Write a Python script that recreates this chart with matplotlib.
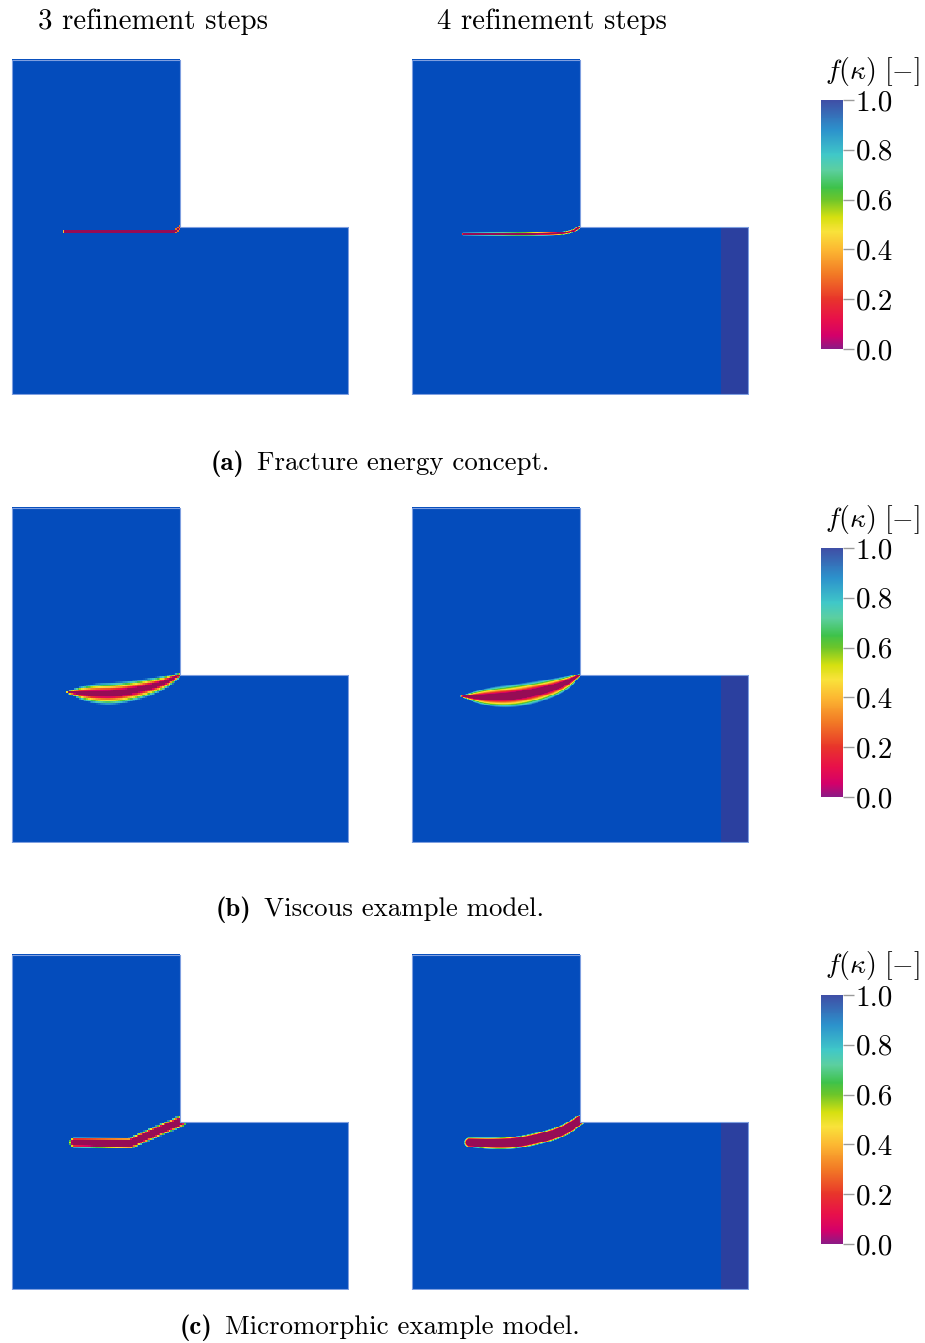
import numpy as np
import matplotlib
matplotlib.use("Agg")
import matplotlib.pyplot as plt
from matplotlib.colors import LinearSegmentedColormap, Normalize
from matplotlib.cm import ScalarMappable
from matplotlib.patches import Rectangle
from matplotlib.offsetbox import TextArea, HPacker, AnnotationBbox

plt.rcParams["font.family"] = "serif"
plt.rcParams["font.serif"] = ["cmr10"]
plt.rcParams["mathtext.fontset"] = "cm"
plt.rcParams["axes.unicode_minus"] = False
plt.rcParams["axes.formatter.use_mathtext"] = True

col_titles = ["3 refinement steps", "4 refinement steps"]
row_tags = ["(a)", "(b)", "(c)"]
row_captions = ["Fracture energy concept.", "Viscous example model.",
                "Micromorphic example model."]
cbar_ticks = [0.0, 0.2, 0.4, 0.6, 0.8, 1.0]

# L-shaped domain outline (domain units)
outline_x = [0, 2, 2, 1, 1, 0, 0]
outline_y = [0, 0, 1, 1, 2, 2, 0]
strip_x = [1.84, 2.0]   # stiffer support strip, finer meshes only
grid_n = [200, 400]     # cells across the domain for 3 / 4 refinements

# crack centerlines, half widths, fully-damaged core fraction, smooth?
# row a: fracture energy
a3_x = [0.31, 0.97, 1.00]
a3_y = [0.970, 0.970, 1.00]
a3_w = [0.010, 0.011, 0.011]
a4_x = [0.30, 0.84, 0.95, 1.00]
a4_y = [0.955, 0.955, 0.968, 1.00]
a4_w = [0.008, 0.011, 0.012, 0.010]
# row b: viscous
b3_x = [0.33, 0.48, 0.64, 0.88, 1.00]
b3_y = [0.895, 0.886, 0.886, 0.940, 1.00]
b3_w = [0.008, 0.064, 0.070, 0.048, 0.012]
b4_x = [0.29, 0.45, 0.645, 0.88, 1.00]
b4_y = [0.870, 0.864, 0.874, 0.930, 1.00]
b4_w = [0.004, 0.060, 0.074, 0.054, 0.006]
# row c: micromorphic
c3_x = [0.37, 0.70, 0.88, 1.00]
c3_y = [0.875, 0.870, 0.950, 1.00]
c3_w = [0.032, 0.035, 0.035, 0.035]
c4_x = [0.34, 0.50, 0.645, 0.88, 1.00]
c4_y = [0.875, 0.868, 0.875, 0.930, 1.01]
c4_w = [0.031, 0.037, 0.038, 0.037, 0.031]

cracks = [
    [(a3_x, a3_y, a3_w, 0.50, False), (a4_x, a4_y, a4_w, 0.30, True)],
    [(b3_x, b3_y, b3_w, 0.25, True), (b4_x, b4_y, b4_w, 0.30, True)],
    [(c3_x, c3_y, c3_w, 0.55, False), (c4_x, c4_y, c4_w, 0.65, True)],
]

bar_stops = [0.0, 0.05, 0.12, 0.2, 0.3, 0.4, 0.47, 0.53, 0.6, 0.65,
             0.72, 0.78, 0.88, 1.0]
bar_colors = ["#8c1a85", "#d3006a", "#e8104a", "#e8352a", "#f27a25",
              "#fcb832", "#f9e23a", "#d6e010", "#6cc52a", "#3ec24a",
              "#5ccfa0", "#40c8c8", "#2c92cc", "#3f4fa6"]
img_colors = ["#960c55"] + bar_colors[1:-1] + ["#044cbc"]

bar_cmap = LinearSegmentedColormap.from_list("bar", list(zip(bar_stops, bar_colors)))
img_cmap = LinearSegmentedColormap.from_list("img", list(zip(bar_stops, img_colors)))
img_cmap.set_bad((1, 1, 1, 0))


def chaikin(x, y, w, iters=4):
    # corner cutting, keeps the end points
    p = np.column_stack([x, y, w]).astype(float)
    for _ in range(iters):
        q = [p[0]]
        for i in range(len(p) - 1):
            q.append(0.75 * p[i] + 0.25 * p[i + 1])
            q.append(0.25 * p[i] + 0.75 * p[i + 1])
        q.append(p[-1])
        p = np.array(q)
    return p[:, 0], p[:, 1], p[:, 2]


def damage_field(n, cx, cy, cw, core, smooth):
    if smooth:
        cx, cy, cw = chaikin(cx, cy, cw)
    s = (np.arange(n) + 0.5) * 2.0 / n
    X, Y = np.meshgrid(s, s)
    r = np.full(X.shape, np.inf)
    for i in range(len(cx) - 1):
        x0, y0, x1, y1 = cx[i], cy[i], cx[i + 1], cy[i + 1]
        dx, dy = x1 - x0, y1 - y0
        t = np.clip(((X - x0) * dx + (Y - y0) * dy) / (dx * dx + dy * dy), 0, 1)
        d = np.hypot(X - (x0 + t * dx), Y - (y0 + t * dy))
        w = cw[i] + t * (cw[i + 1] - cw[i])
        r = np.minimum(r, d / w)
    v = np.clip((r - core) / (1 - core), 0, 1)
    v[(X > 1) & (Y > 1)] = np.nan
    return v


fig = plt.figure(figsize=(9.25, 13.43), dpi=100)

panel_left = [11 / 925, 411 / 925]
row_bottom = [1 - 395 / 1343, 1 - 843 / 1343, 1 - 1290 / 1343]
cbar_bottom = [1 - 349 / 1343, 1 - 797 / 1343, 1 - 1244 / 1343]
caption_y = [1 - 464 / 1343, 1 - 910 / 1343, 1 - 1328 / 1343]

for r in range(3):
    for c in range(2):
        ax = fig.add_axes([panel_left[c], row_bottom[r], 338 / 925, 336 / 1343])
        cx, cy, cw, core, smooth = cracks[r][c]
        field = damage_field(grid_n[c], cx, cy, cw, core, smooth)
        ax.imshow(field, origin="lower", extent=[0, 2, 0, 2], cmap=img_cmap,
                  vmin=0, vmax=1, interpolation="nearest", aspect="auto")
        if c == 1:
            ax.add_patch(Rectangle((strip_x[0], 0), strip_x[1] - strip_x[0], 1,
                                   facecolor="#2b409f", edgecolor="none"))
        ax.plot(outline_x, outline_y, color="#7f9fe0", lw=0.8)
        ax.set_xlim(-0.005, 2.005)
        ax.set_ylim(-0.005, 2.005)
        ax.axis("off")

    cax = fig.add_axes([821 / 925, cbar_bottom[r], 22 / 925, 249 / 1343])
    cb = fig.colorbar(ScalarMappable(norm=Normalize(0, 1), cmap=bar_cmap),
                      cax=cax, ticks=cbar_ticks)
    cb.outline.set_visible(False)
    cb.ax.set_yticklabels(["%.1f" % t for t in cbar_ticks])
    cb.ax.tick_params(length=8, width=1, color="#9a9a9a", pad=1,
                      labelsize=21)
    fig.text(872 / 925, cbar_bottom[r] + 278 / 1343, r"$f(\kappa)\ [-]$",
             ha="center", va="center", fontsize=20)

    # bold tag + regular caption side by side
    tag = TextArea(row_tags[r], textprops=dict(family="cmb10", size=19.3))
    cap = TextArea(row_captions[r], textprops=dict(family="cmr10", size=19.3))
    box = HPacker(children=[tag, cap], align="baseline", pad=0, sep=9)
    fig.add_artist(AnnotationBbox(box, (380 / 925, caption_y[r]),
                                  xycoords="figure fraction", frameon=False,
                                  box_alignment=(0.5, 0.5), pad=0))

fig.text(153 / 925, 1 - 22 / 1343, col_titles[0], ha="center", va="center",
         fontsize=20.8)
fig.text(552 / 925, 1 - 22 / 1343, col_titles[1], ha="center", va="center",
         fontsize=20.8)

fig.savefig("out.png", dpi=100)
